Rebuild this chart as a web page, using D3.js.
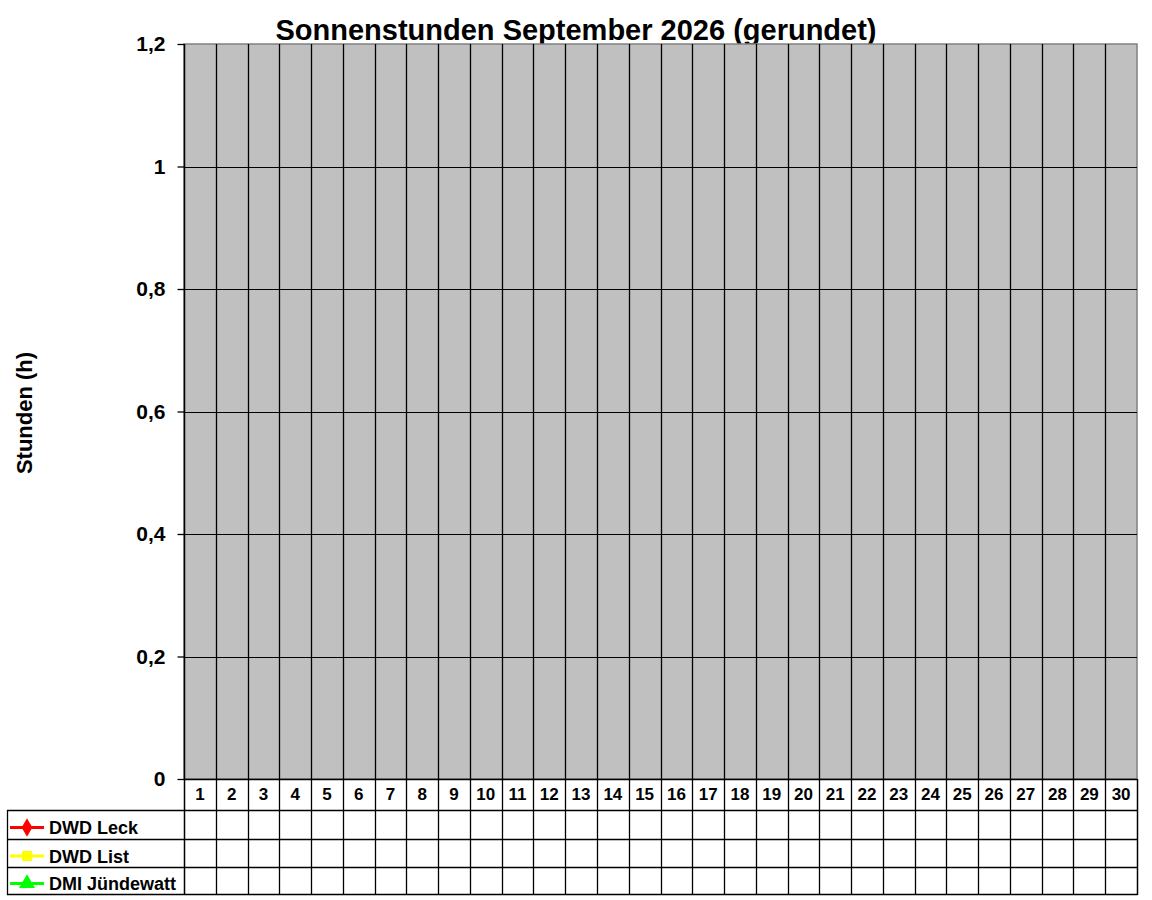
<!DOCTYPE html>
<html>
<head>
<meta charset="utf-8">
<script src="https://cdn.jsdelivr.net/npm/d3@7/dist/d3.min.js"></script>
<style>
  html, body { margin: 0; padding: 0; background: #fff; }
  svg { display: block; }
  text { font-family: "Liberation Sans", Arial, sans-serif; font-weight: bold; fill: #000; }
</style>
</head>
<body>
<script>
// ---- data ----
const days = ["1","2","3","4","5","6","7","8","9","10","11","12","13","14","15","16","17","18","19","20","21","22","23","24","25","26","27","28","29","30"];
const dwdLeck = [null,null,null,null,null,null,null,null,null,null,null,null,null,null,null,null,null,null,null,null,null,null,null,null,null,null,null,null,null,null];
const dwdList = [null,null,null,null,null,null,null,null,null,null,null,null,null,null,null,null,null,null,null,null,null,null,null,null,null,null,null,null,null,null];
const dmiJuendewatt = [null,null,null,null,null,null,null,null,null,null,null,null,null,null,null,null,null,null,null,null,null,null,null,null,null,null,null,null,null,null];
const seriesNames = ["DWD Leck", "DWD List", "DMI Jündewatt"];
const seriesColors = ["#FF0000", "#FFFF00", "#00FF00"];
const seriesSymbols = ["diamond", "square", "triangle"];
const yTickValues = [0, 0.2, 0.4, 0.6, 0.8, 1.0, 1.2];
const yTickLabels = ["0", "0,2", "0,4", "0,6", "0,8", "1", "1,2"];
const titleText = "Sonnenstunden September 2026 (gerundet)";
const yAxisTitle = "Stunden (h)";

const series = seriesNames.map((n, i) => ({
  name: n, color: seriesColors[i], symbol: seriesSymbols[i],
  values: [dwdLeck, dwdList, dmiJuendewatt][i]
}));

// ---- layout ----
const W = 1152, H = 900;
const plot = { left: 184, right: 1137, top: 44, bottom: 779 };
const rowEdges = [779, 810, 839, 867, 894];
const legendLeft = 7;

const svg = d3.select("body").append("svg").attr("width", W).attr("height", H);

const x = d3.scaleBand().domain(days).range([plot.left, plot.right]).paddingInner(0).paddingOuter(0);
const y = d3.scaleLinear().domain([0, 1.2]).range([plot.bottom, plot.top]);

// title
svg.append("text").attr("x", W / 2).attr("y", 40).attr("text-anchor", "middle")
  .style("font-size", "29px").text(titleText);

// plot background
svg.append("rect").attr("x", plot.left).attr("y", plot.top)
  .attr("width", plot.right - plot.left).attr("height", plot.bottom - plot.top)
  .attr("fill", "#C0C0C0").attr("stroke", "#808080").attr("stroke-width", 1.5);

// horizontal gridlines
svg.append("g").selectAll("line").data(yTickValues.filter(v => v > 0 && v < 1.2)).join("line")
  .attr("x1", plot.left).attr("x2", plot.right)
  .attr("y1", d => Math.round(y(d)) + 0.5).attr("y2", d => Math.round(y(d)) + 0.5)
  .attr("stroke", "#000").attr("stroke-width", 1);

// vertical category lines (plot + data table)
const bounds = days.slice(1).map(d => x(d));
svg.append("g").selectAll("line").data(bounds).join("line")
  .attr("x1", d => Math.round(d) + 0.5).attr("x2", d => Math.round(d) + 0.5)
  .attr("y1", plot.top).attr("y2", rowEdges[rowEdges.length - 1])
  .attr("stroke", "#000").attr("stroke-width", 1.3);

// y axis
const yAxis = d3.axisLeft(y).tickValues(yTickValues)
  .tickFormat((d, i) => yTickLabels[i]).tickSize(7).tickPadding(12);
const ga = svg.append("g").attr("transform", `translate(${plot.left + 0.5},0)`).call(yAxis);
ga.select(".domain").remove();
ga.selectAll(".tick line").attr("stroke", "#000").attr("stroke-width", 1.3);
ga.selectAll(".tick text").style("font-size", "21px")
  .style("font-family", "'Liberation Sans', Arial, sans-serif").style("font-weight", "bold")
  .attr("fill", "#000");
svg.append("line").attr("x1", plot.left + 0.5).attr("x2", plot.left + 0.5)
  .attr("y1", plot.top).attr("y2", rowEdges[rowEdges.length - 1])
  .attr("stroke", "#000").attr("stroke-width", 1.5);

// y axis title
svg.append("text").attr("transform", `translate(32,${(350 + 476) / 2}) rotate(-90)`)
  .attr("text-anchor", "middle").style("font-size", "22px").text(yAxisTitle);

// data table horizontal lines
svg.append("line").attr("x1", plot.left).attr("x2", plot.right + 0.5)
  .attr("y1", rowEdges[0] + 0.5).attr("y2", rowEdges[0] + 0.5).attr("stroke", "#000").attr("stroke-width", 1.5);
rowEdges.slice(1).forEach(r => {
  svg.append("line").attr("x1", legendLeft).attr("x2", plot.right + 0.5)
    .attr("y1", r + 0.5).attr("y2", r + 0.5).attr("stroke", "#000").attr("stroke-width", 1.3);
});
svg.append("line").attr("x1", legendLeft + 0.5).attr("x2", legendLeft + 0.5)
  .attr("y1", rowEdges[1]).attr("y2", rowEdges[rowEdges.length - 1] + 1)
  .attr("stroke", "#000").attr("stroke-width", 1.3);
svg.append("line").attr("x1", plot.right + 0.5).attr("x2", plot.right + 0.5)
  .attr("y1", rowEdges[0]).attr("y2", rowEdges[rowEdges.length - 1] + 1)
  .attr("stroke", "#000").attr("stroke-width", 1.5);

// day labels (x axis categories)
svg.append("g").selectAll("text").data(days).join("text")
  .attr("x", d => x(d) + x.bandwidth() / 2).attr("y", 800)
  .attr("text-anchor", "middle").style("font-size", "17px").text(d => d);

// series lines (empty data -> nothing drawn)
const symTypes = { diamond: d3.symbolDiamond, square: d3.symbolSquare, triangle: d3.symbolTriangle };
const line = d3.line().defined(d => d != null)
  .x((d, i) => x(days[i]) + x.bandwidth() / 2).y(d => y(d));
series.forEach(s => {
  svg.append("path").datum(s.values).attr("d", line).attr("fill", "none")
    .attr("stroke", s.color).attr("stroke-width", 3);
  svg.append("g").selectAll("path").data(s.values.map((v, i) => ({ v, i })).filter(o => o.v != null)).join("path")
    .attr("transform", o => `translate(${x(days[o.i]) + x.bandwidth() / 2},${y(o.v)})`)
    .attr("d", d3.symbol().type(symTypes[s.symbol]).size(80))
    .attr("fill", s.color);
});

// data table rows (legend + values)
series.forEach((s, k) => {
  const top = rowEdges[k + 1], bot = rowEdges[k + 2];
  const cy = (top + bot) / 2 + 3;
  svg.append("line").attr("x1", 10).attr("x2", 44).attr("y1", cy).attr("y2", cy)
    .attr("stroke", s.color).attr("stroke-width", 3);
  svg.append("path").attr("transform", `translate(27,${cy})`)
    .attr("d", d3.symbol().type(symTypes[s.symbol]).size(s.symbol === "triangle" ? 110 : 100))
    .attr("fill", s.color);
  svg.append("text").attr("x", 49).attr("y", cy + 6.5).style("font-size", "18px").text(s.name);
  svg.append("g").selectAll("text").data(s.values).join("text")
    .attr("x", (d, i) => x(days[i]) + x.bandwidth() / 2).attr("y", cy + 6)
    .attr("text-anchor", "middle").style("font-size", "16px")
    .text(d => d == null ? "" : String(d).replace(".", ","));
});
</script>
</body>
</html>
